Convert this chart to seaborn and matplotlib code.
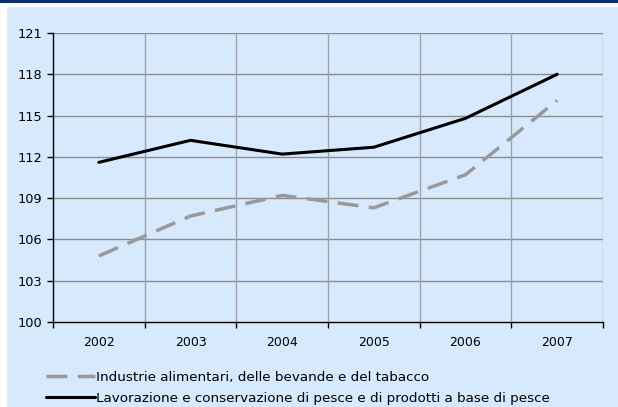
import numpy as np
import pandas as pd

import matplotlib
matplotlib.use("Agg")
import matplotlib.pyplot as plt
from matplotlib.patches import Rectangle
import seaborn as sns

# data
years = ["2002", "2003", "2004", "2005", "2006", "2007"]
alimentari = [104.8, 107.7, 109.2, 108.3, 110.7, 116.1]
pesce = [111.6, 113.2, 112.2, 112.7, 114.8, 118.0]

label_alimentari = "Industrie alimentari, delle bevande e del tabacco"
label_pesce = "Lavorazione e conservazione di pesce e di prodotti a base di pesce"

y_ticks = [100, 103, 106, 109, 112, 115, 118, 121]

BG = "#D7E9FC"
GRID = "#8C8C8C"

sns.set_style("white")
plt.rcParams['font.family'] = ['DejaVu Sans']

W, H = 618, 407
fig = plt.figure(figsize=(W / 100, H / 100), dpi=100)
fig.patch.set_facecolor("white")

# light blue panel and navy band on top
fig.patches.append(Rectangle((7 / W, 0), 1 - 7 / W, (H - 7) / H, transform=fig.transFigure,
                             facecolor=BG, edgecolor="none", zorder=-2))
fig.patches.append(Rectangle((0, (H - 2.5) / H), 1, 2.5 / H, transform=fig.transFigure,
                             facecolor="#0B3264", edgecolor="none", zorder=-2))

left, right, top, bottom = 53, 603, 33, 322
ax = fig.add_axes([left / W, 1 - bottom / H, (right - left) / W, (bottom - top) / H])
ax.set_facecolor(BG)

df = pd.DataFrame({"x": np.arange(len(years)), "alimentari": alimentari, "pesce": pesce})

sns.lineplot(data=df, x="x", y="alimentari", ax=ax, color="#999999", linewidth=2.5,
             label=label_alimentari, zorder=3)
ax.lines[-1].set_dashes([6, 3])
sns.lineplot(data=df, x="x", y="pesce", ax=ax, color="black", linewidth=2.2,
             label=label_pesce, zorder=4)

ax.set_xlim(-0.5, len(years) - 0.5)
ax.set_ylim(100, 121)
ax.set_yticks(y_ticks)
ax.set_yticklabels([str(t) for t in y_ticks])
ax.set_xticks(np.arange(len(years)))
ax.set_xticklabels(years)
ax.set_xticks(np.arange(len(years) + 1) - 0.5, minor=True)
ax.tick_params(axis="x", which="major", length=0, pad=10, labelsize=9, colors="black")
ax.tick_params(axis="x", which="minor", length=4, width=1, color="black", bottom=True)
ax.tick_params(axis="y", which="major", length=4, width=1, color="black", left=True,
               labelsize=9.3, pad=4, labelcolor="black")

ax.grid(False)
for yv in y_ticks[1:]:
    ax.axhline(yv, color=GRID, linewidth=1, zorder=1)
for xv in np.arange(1, len(years) + 1) - 0.5:
    ax.axvline(xv, color="#A0A0A8", linewidth=1, zorder=1)

ax.set_xlabel("")
ax.set_ylabel("")
for side in ["top", "right"]:
    ax.spines[side].set_visible(False)
ax.spines["left"].set_color("black")
ax.spines["bottom"].set_color("black")
ax.spines["left"].set_linewidth(1)
ax.spines["bottom"].set_linewidth(1)

ax.get_legend().remove()
handles, labels = ax.get_legend_handles_labels()
fig.legend(handles, labels, loc="upper left", bbox_to_anchor=(46 / W, 1 - 371 / H),
           frameon=False, fontsize=9.7, handlelength=3.6, handletextpad=0.1,
           labelspacing=0.6, borderaxespad=0, borderpad=0, labelcolor="black")

fig.savefig("out.png", dpi=100, facecolor=fig.get_facecolor())
